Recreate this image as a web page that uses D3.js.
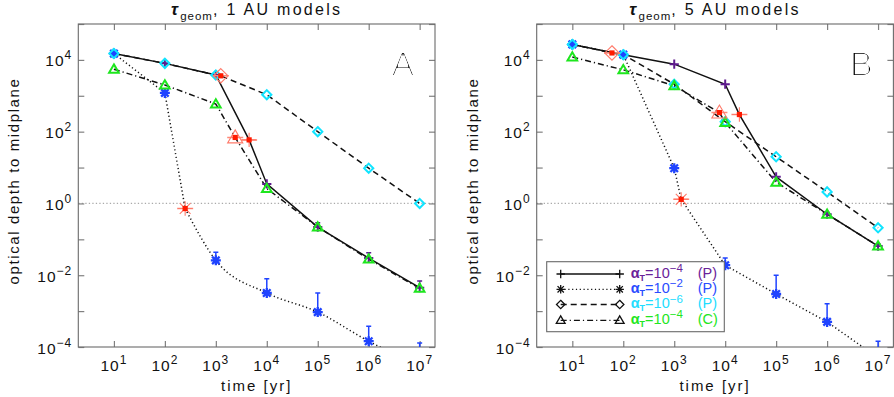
<!DOCTYPE html>
<html>
<head>
<meta charset="utf-8">
<script src="https://cdn.jsdelivr.net/npm/d3@7"></script>
<style>
  body { margin: 0; background: #fff; }
  text { font-family: "Liberation Sans", Arial, sans-serif; }
</style>
</head>
<body>
<svg width="894" height="397"></svg>
<script>
// time grid of the models [yr]
var times = [1e1, 1e2, 1e3, 1e4, 1e5, 1e6, 1e7];
var yDecades = [1e-4, 1e-3, 1e-2, 1e-1, 1e0, 1e1, 1e2, 1e3, 1e4, 1e5];
var yLabelExp = [-4, -2, 0, 2, 4];

// 1 AU models (panel A)
var tauA_p4 = [1.5e4, 8e3, 3.8e3, 3.5, 0.22, 0.03, 0.0045];
var errA_p4 = [null, null, null, null, 0.29, 0.042, 0.0069];
var trA_p4 = [4.5e3, 59];
var tauA_p2 = [1.5e4, 1.2e3, 0.026, 0.0032, 9.4e-4, 1.45e-4, 3e-5];
var errA_p2 = [null, null, 0.044, 0.008, 0.0032, 3.8e-4, 1.3e-4];
var trA_p2 = [250, 0.72];
var tauA_p6 = [1.5e4, 8e3, 3.8e3, 1.07e3, 100, 9.6, 1.0];
var errA_p6 = [null, null, null, null, null, null, null];
var trA_p6 = [1.25e3, 3.6e3];
var tauA_c4 = [5.5e3, 2e3, 590, 2.6, 0.22, 0.028, 0.0043];
var errA_c4 = [null, null, null, null, null, null, null];
var trA_c4 = [2.4e3, 69];

// 5 AU models (panel B)
var tauB_p4 = [2.7e4, 1.4e4, 7.6e3, 2.1e3, 5.5, 0.5, 0.065];
var errB_p4 = [null, null, null, null, null, 0.56, 0.075];
var trB_p4 = [1.9e4, 300];
var tauB_p2 = [2.7e4, 1.4e4, 9.6, 0.019, 0.003, 5e-4, 5e-5];
var errB_p2 = [null, null, null, 0.03, 0.01, 0.0016, 1.45e-4];
var trB_p2 = [1.37e3, 1.3];
var tauB_p6 = [2.7e4, 1.4e4, 2.1e3, 190, 20, 2.1, 0.21];
var errB_p6 = [null, null, null, null, null, null, null];
var trB_p6 = [60, 1.56e4];
var tauB_c4 = [1.2e4, 5.3e3, 1.9e3, 180, 3.9, 0.5, 0.065];
var errB_c4 = [null, null, null, null, null, null, null];
var trB_c4 = [7.7e3, 340];

// legend
var legendExp = ["−4", "−2", "−6", "−4"];
var legendModel = ["P", "P", "P", "C"];

var colors = ["#5e1a8e", "#1f43ff", "#11e4ff", "#1ee61e"];
var legendColors = ["#6a2299", "#2a4cff", "#22ddff", "#22e622"];
var symbols = ["plus", "star", "diamond", "tri"];
var dashes = [null, "1.2,2.6", "6,4", "6,3,1.2,3"];
var drawOrder = [0, 1, 2, 3];

var svg = d3.select("svg");
var top0 = 24, bot0 = 347, plotW = 356.7;

// thin-stroke filter for the big panel letters
var thin = svg.append("defs").append("filter").attr("id", "thin");
thin.append("feMorphology").attr("operator", "erode").attr("radius", 0.58);

function symbolPath(type, s) {
  if (type == "plus") return "M" + (-s) + ",0H" + s + "M0," + (-s) + "V" + s;
  if (type == "star") {
    var d = s * 0.75;
    return "M0," + (-s) + "V" + s + "M" + (-s) + ",0H" + s +
      "M" + (-d) + "," + (-d) + "L" + d + "," + d + "M" + (-d) + "," + d + "L" + d + "," + (-d);
  }
  if (type == "diamond") return "M0," + (-s) + "L" + s + ",0L0," + s + "L" + (-s) + ",0Z";
  // triangle
  return "M0," + (-s * 1.05) + "L" + (s * 1.05) + "," + (s * 0.75) + "L" + (-s * 1.05) + "," + (s * 0.75) + "Z";
}

function supText(sel, base, exp, supSize) {
  sel.append("tspan").text(base);
  sel.append("tspan").attr("dy", -7).attr("font-size", supSize).text(exp);
}

function drawPanel(p) {
  var left = p.left, right = left + plotW;
  var x = d3.scaleLog().domain([2, 2e7]).range([left, right]);
  var y = d3.scaleLog().domain([1e-4, 1e5]).range([bot0, top0]);
  var g = svg.append("g");

  g.append("clipPath").attr("id", "clip" + p.id).append("rect")
    .attr("x", left).attr("y", top0).attr("width", plotW).attr("height", bot0 - top0);

  // tau = 1 reference line
  g.append("line").attr("x1", left).attr("x2", right).attr("y1", y(1)).attr("y2", y(1))
    .attr("stroke", "#aaa").attr("stroke-width", 1.3).attr("stroke-dasharray", "1.3,2.2");

  // axes with inward ticks on four sides
  var axes = [
    [d3.axisBottom(x).tickValues(times), "translate(0," + bot0 + ")"],
    [d3.axisTop(x).tickValues(times), "translate(0," + top0 + ")"],
    [d3.axisLeft(y).tickValues(yDecades), "translate(" + left + ",0)"],
    [d3.axisRight(y).tickValues(yDecades), "translate(" + right + ",0)"]
  ];
  axes.forEach(function (a) {
    var ax = g.append("g").attr("transform", a[1])
      .call(a[0].tickSizeInner(-6).tickSizeOuter(0).tickFormat(""));
    ax.select(".domain").remove();
    ax.selectAll(".tick line").attr("stroke", "#808080").attr("stroke-width", 1.2);
  });
  g.append("rect").attr("x", left).attr("y", top0).attr("width", plotW).attr("height", bot0 - top0)
    .attr("fill", "none").attr("stroke", "#6a6a6a").attr("stroke-width", 1.1);

  // tick labels
  times.forEach(function (t) {
    var tx = g.append("text").attr("x", x(t)).attr("y", 370.5).attr("text-anchor", "middle")
      .attr("font-size", 15.5).attr("letter-spacing", 1).attr("fill", "#111");
    supText(tx, "10", Math.round(Math.log10(t)), 12);
  });
  yLabelExp.forEach(function (e) {
    var tx = g.append("text").attr("x", left - 6).attr("y", y(Math.pow(10, e)) + 6.5)
      .attr("text-anchor", "end").attr("font-size", 15.5).attr("letter-spacing", 1).attr("fill", "#111");
    supText(tx, "10", String(e).replace("-", "−"), 12);
  });

  // axis titles
  g.append("text").attr("x", (left + right) / 2).attr("y", 391).attr("text-anchor", "middle")
    .attr("font-size", 15).attr("letter-spacing", 2).attr("fill", "#111").text("time [yr]");
  g.append("text").attr("transform", "translate(" + (left - 59) + "," + 181 + ") rotate(-90)")
    .attr("text-anchor", "middle").attr("font-size", 15).attr("letter-spacing", 1.6)
    .attr("fill", "#111").text("optical depth to midplane");

  // panel title
  var tt = g.append("text").attr("x", (left + right) / 2).attr("y", 15).attr("text-anchor", "middle")
    .attr("font-size", 16).attr("letter-spacing", 2.3).attr("fill", "#111");
  tt.append("tspan").attr("font-weight", "bold").attr("font-style", "italic").attr("font-size", 17).text("τ");
  tt.append("tspan").attr("dy", 4.5).attr("font-size", 11.5).attr("letter-spacing", 1).text("geom");
  tt.append("tspan").attr("dy", -4.5).text(", " + p.title);

  // panel letter
  g.append("text").attr("x", right - 32).attr("y", 76).attr("text-anchor", "middle")
    .attr("font-size", 35).attr("filter", "url(#thin)")
    .attr("fill", "#000").text(p.id);

  var data = g.append("g").attr("clip-path", "url(#clip" + p.id + ")");
  var xy = function (d) { return [x(d[0]), y(d[1])]; };
  var lin = d3.line().x(function (d) { return x(d[0]); }).y(function (d) { return y(d[1]); });
  var smooth = d3.line().x(function (d) { return x(d[0]); }).y(function (d) { return y(d[1]); })
    .curve(d3.curveMonotoneX);

  // lines through model points and the transition point
  p.series.forEach(function (s, i) {
    var pts = times.map(function (t, k) { return [t, s.tau[k]]; });
    pts.push(s.tr);
    pts.sort(function (a, b) { return a[0] - b[0]; });
    var d;
    if (s.smooth) {
      // straight drop to the transition, smooth decay afterwards
      var before = pts.filter(function (q) { return q[0] <= s.tr[0]; });
      var after = pts.filter(function (q) { return q[0] >= s.tr[0]; });
      d = lin(before) + smooth(after);
    } else {
      d = lin(pts);
    }
    data.append("path").attr("d", d).attr("fill", "none").attr("stroke", "#111")
      .attr("stroke-width", 1.5).attr("stroke-dasharray", dashes[i]);
  });

  // upper error bars
  p.series.forEach(function (s, i) {
    times.forEach(function (t, k) {
      if (s.err[k] == null) return;
      var cx = x(t), y0 = y(s.tau[k]), y1 = y(s.err[k]);
      data.append("path").attr("d", "M" + cx + "," + y0 + "V" + y1 + "M" + (cx - 2.5) + "," + y1 + "H" + (cx + 2.5))
        .attr("stroke", colors[i]).attr("stroke-width", 1.5).attr("fill", "none");
    });
  });

  // model markers
  drawOrder.forEach(function (i) {
    var s = p.series[i];
    times.forEach(function (t, k) {
      var c = xy([t, s.tau[k]]);
      data.append("path").attr("transform", "translate(" + c[0] + "," + c[1] + ")")
        .attr("d", symbolPath(symbols[i], symbols[i] == "star" ? 5 : 4.6)).attr("fill", "none")
        .attr("stroke", colors[i]).attr("stroke-width", symbols[i] == "star" ? 2.3 : 2);
    });
  });

  // transition markers
  p.series.forEach(function (s, i) {
    var c = xy(s.tr), cx = c[0], cy = c[1];
    data.append("path").attr("d", "M" + (cx - 8) + "," + cy + "H" + (cx + 8))
      .attr("stroke", "#ff8a7a").attr("stroke-width", 1.5);
    data.append("path").attr("transform", "translate(" + cx + "," + cy + ")")
      .attr("d", symbolPath(symbols[i], 7.2)).attr("fill", "none")
      .attr("stroke", "#ff7a6a").attr("stroke-width", 1.1);
    data.append("rect").attr("x", cx - 2.6).attr("y", cy - 2.6).attr("width", 5.2).attr("height", 5.2)
      .attr("fill", "#ff1a00");
  });

  if (p.legend) {
    var lx = left + 10, ly = 261.7;
    g.append("rect").attr("x", lx).attr("y", ly).attr("width", 177.6).attr("height", 70)
      .attr("fill", "#fff").attr("stroke", "#6a6a6a").attr("stroke-width", 1.1);
    var rowY = [274, 289.3, 304.5, 320.3];
    rowY.forEach(function (ry, i) {
      g.append("line").attr("x1", lx + 14).attr("x2", lx + 73).attr("y1", ry).attr("y2", ry)
        .attr("stroke", "#111").attr("stroke-width", 1.3).attr("stroke-dasharray", dashes[i]);
      [lx + 14, lx + 73].forEach(function (mx) {
        g.append("path").attr("transform", "translate(" + mx + "," + ry + ")")
          .attr("d", symbolPath(symbols[i], 4.2)).attr("fill", "none")
          .attr("stroke", "#111").attr("stroke-width", 1.3);
      });
      var tx = g.append("text").attr("x", lx + 84).attr("y", ry + 3.5).attr("font-size", 14.5)
        .attr("fill", legendColors[i]);
      tx.append("tspan").attr("font-weight", "bold").text("α");
      tx.append("tspan").attr("dy", 3).attr("font-size", 9).attr("font-weight", "bold").text("T");
      tx.append("tspan").attr("dy", -3).text("=10");
      tx.append("tspan").attr("dy", -5.5).attr("font-size", 11.5).text(legendExp[i]);
      tx.append("tspan").attr("dy", 5.5).attr("x", lx + 151).text("(" + legendModel[i] + ")");
    });
  }
}

drawPanel({
  id: "A", left: 78.3, title: "1 AU models", legend: false,
  series: [
    { tau: tauA_p4, err: errA_p4, tr: trA_p4 },
    { tau: tauA_p2, err: errA_p2, tr: trA_p2, smooth: true },
    { tau: tauA_p6, err: errA_p6, tr: trA_p6 },
    { tau: tauA_c4, err: errA_c4, tr: trA_c4 }
  ]
});
drawPanel({
  id: "B", left: 536.7, title: "5 AU models", legend: true,
  series: [
    { tau: tauB_p4, err: errB_p4, tr: trB_p4 },
    { tau: tauB_p2, err: errB_p2, tr: trB_p2 },
    { tau: tauB_p6, err: errB_p6, tr: trB_p6 },
    { tau: tauB_c4, err: errB_c4, tr: trB_c4 }
  ]
});
</script>
</body>
</html>
